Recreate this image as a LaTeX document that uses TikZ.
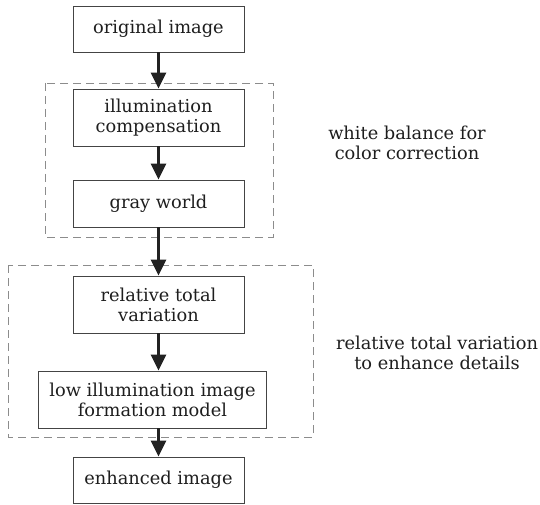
\documentclass[tikz,border=0pt]{standalone}
\usepackage{fontspec}
\setmainfont{DejaVu Serif}
\usetikzlibrary{arrows.meta}
\definecolor{boxline}{HTML}{444444}
\definecolor{arrowc}{HTML}{222222}
\definecolor{dashc}{HTML}{8C8C8C}
\definecolor{textc}{HTML}{1E1E1E}
\tikzset{
  stepbox/.style={draw=boxline, line width=0.9pt, rectangle, minimum width=171pt, align=center, inner sep=0pt, text=textc, font=\fontsize{17.8}{20}\selectfont},
  flow/.style={draw=arrowc, line width=2.6pt, -{Triangle[length=16pt,width=15pt]}},
  groupbox/.style={draw=dashc, line width=0.9pt, dash pattern=on 8pt off 5pt},
  note/.style={align=center, text=textc, font=\fontsize{17.8}{20}\selectfont}
}
\begin{document}
\begin{tikzpicture}[x=1pt,y=-1pt]
\useasboundingbox (0,0) rectangle (540,505);
\fill[white] (0,0) rectangle (540,505);
\draw[groupbox] (45,83) rectangle (273,237);
\draw[groupbox] (8,265) rectangle (313,437);
\node[stepbox, minimum height=46pt] (b1) at (158.5,29) {original image};
\node[stepbox, minimum height=57pt] (b2) at (158.5,117.5) {illumination\\compensation};
\node[stepbox, minimum height=47pt] (b3) at (158.5,203.5) {gray world};
\node[stepbox, minimum height=57pt] (b4) at (158.5,304.5) {relative total\\variation};
\node[stepbox, minimum height=57pt, minimum width=228pt] (b5) at (152.5,399.5) {low illumination image\\formation model};
\node[stepbox, minimum height=46pt] (b6) at (158.5,480) {enhanced image};
\node[note] (n1) at (407,143) {white balance for\\color correction};
\node[note] (n2) at (437,353) {relative total variation\\to enhance details};
\draw[flow] (b1.south) -- (b2.north);
\draw[flow] (b2.south) -- (b3.north);
\draw[flow] (b3.south) -- (b4.north);
\draw[flow] (b4.south) -- (b5.north -| b4.south);
\draw[flow] (b5.south -| b6.north) -- (b6.north);
\end{tikzpicture}
\end{document}
